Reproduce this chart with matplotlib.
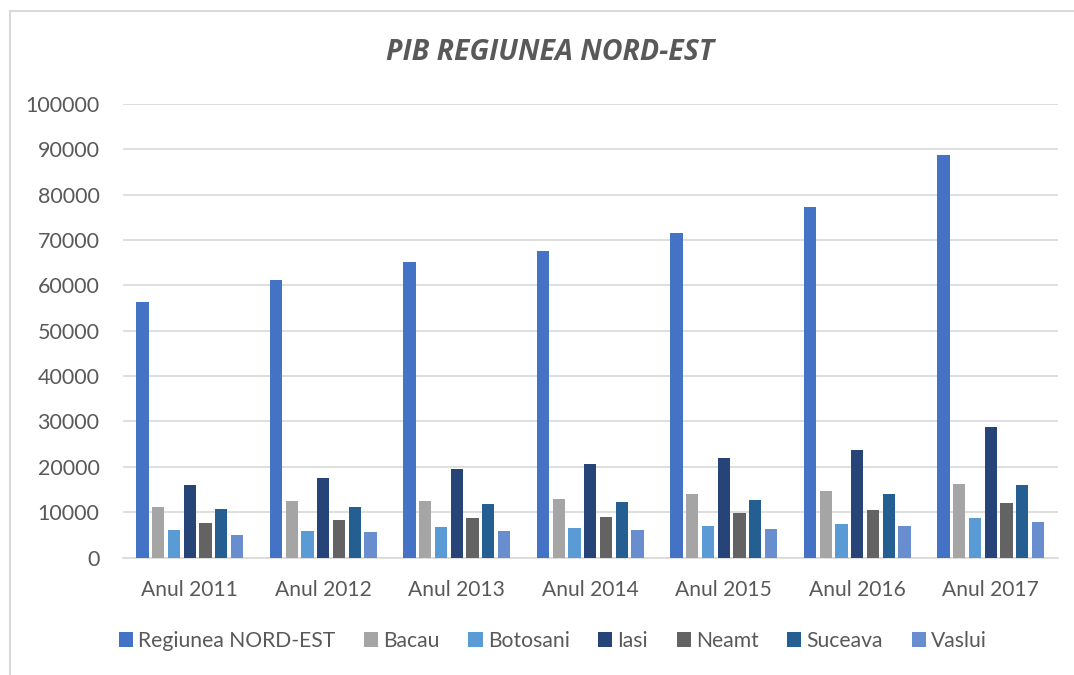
import matplotlib
matplotlib.use("Agg")
import matplotlib.pyplot as plt
import numpy as np
from matplotlib.lines import Line2D

plt.rcParams["font.family"] = ["Lato", "DejaVu Sans"]

years = ["Anul 2011", "Anul 2012", "Anul 2013", "Anul 2014", "Anul 2015", "Anul 2016", "Anul 2017"]
regions = ["Regiunea NORD-EST", "Bacau", "Botosani", "Iasi", "Neamt", "Suceava", "Vaslui"]

nord_est = [56300, 61200, 65100, 67600, 71500, 77200, 88700]
bacau = [11100, 12500, 12400, 13000, 14100, 14700, 16100]
botosani = [6000, 5900, 6700, 6600, 7000, 7400, 8600]
iasi = [16000, 17600, 19600, 20700, 21900, 23800, 28700]
neamt = [7500, 8300, 8800, 9000, 9800, 10500, 12000]
suceava = [10600, 11100, 11900, 12300, 12700, 13900, 15900]
vaslui = [5000, 5700, 5800, 6000, 6200, 7000, 7900]

series = [nord_est, bacau, botosani, iasi, neamt, suceava, vaslui]
colors = ["#4472C4", "#A5A5A5", "#5B9BD5", "#264478", "#636363", "#255E91", "#698ED0"]

W, H = 1074, 675
fig = plt.figure(figsize=(W / 100, H / 100), dpi=100)
ax = fig.add_axes([123 / W, 1 - 557.5 / H, (1057.5 - 123) / W, (557.5 - 104) / H])

x = np.arange(len(years))
step = 0.1177
width = 0.092
for i, (vals, col, name) in enumerate(zip(series, colors, regions)):
    ax.bar(x + (i - 3) * step, vals, width=width, color=col, label=name, zorder=3)

ax.set_xlim(-0.5, len(years) - 0.5)
ax.set_ylim(0, 100000)
ax.set_yticks(np.arange(0, 100001, 10000))
ax.set_xticks(x)
ax.set_xticklabels(years)
ax.yaxis.grid(True, color="#D9D9D9", linewidth=1.2, zorder=0)
for s in ["top", "right", "left"]:
    ax.spines[s].set_visible(False)
ax.spines["bottom"].set_color("#D9D9D9")
ax.spines["bottom"].set_linewidth(1.2)
ax.tick_params(axis="both", length=0, colors="#595959")
ax.tick_params(axis="y", pad=17, labelsize=15.5)
ax.tick_params(axis="x", pad=16, labelsize=15.1)

fig.text(550 / W, 1 - 53 / H, "PIB REGIUNEA NORD-EST", ha="center", va="center",
         fontsize=20.5, fontweight="bold", fontstyle="italic", color="#595959",
         family=["Open Sans", "DejaVu Sans"])

handles, labels = ax.get_legend_handles_labels()
leg_y = 1 - 641 / H
leg_fs = 15.2


def make_legend(x0, cs):
    return fig.legend(handles, labels, loc="center left", bbox_to_anchor=(x0, leg_y), ncol=7,
                      frameon=False, fontsize=leg_fs, handlelength=0.67, handleheight=0.67,
                      handletextpad=0.25, columnspacing=cs, labelcolor="#595959")


def legend_span(leg):
    fig.canvas.draw()
    r = fig.canvas.get_renderer()
    left = leg.legend_handles[0].get_window_extent(r).x0
    right = leg.get_texts()[-1].get_window_extent(r).x1
    return left, right


# fit legend to the reference span (marker of first entry to end of last label)
cs = 1.5
leg = make_legend(0.1, cs)
left, right = legend_span(leg)
em = leg_fs * fig.dpi / 72
cs = cs + (868 - (right - left)) / 6 / em
leg.remove()
leg = make_legend(0.1, cs)
left, right = legend_span(leg)
leg.remove()
leg = make_legend(0.1 + (119 - left) / W, cs)

# chart-area border (left and top edges visible)
fig.add_artist(Line2D([10 / W, 10 / W], [0, 1 - 11 / H], color="#D9D9D9", linewidth=1.5))
fig.add_artist(Line2D([10 / W, 1], [1 - 11 / H, 1 - 11 / H], color="#D9D9D9", linewidth=1.5))

fig.savefig("out.png", dpi=100)
